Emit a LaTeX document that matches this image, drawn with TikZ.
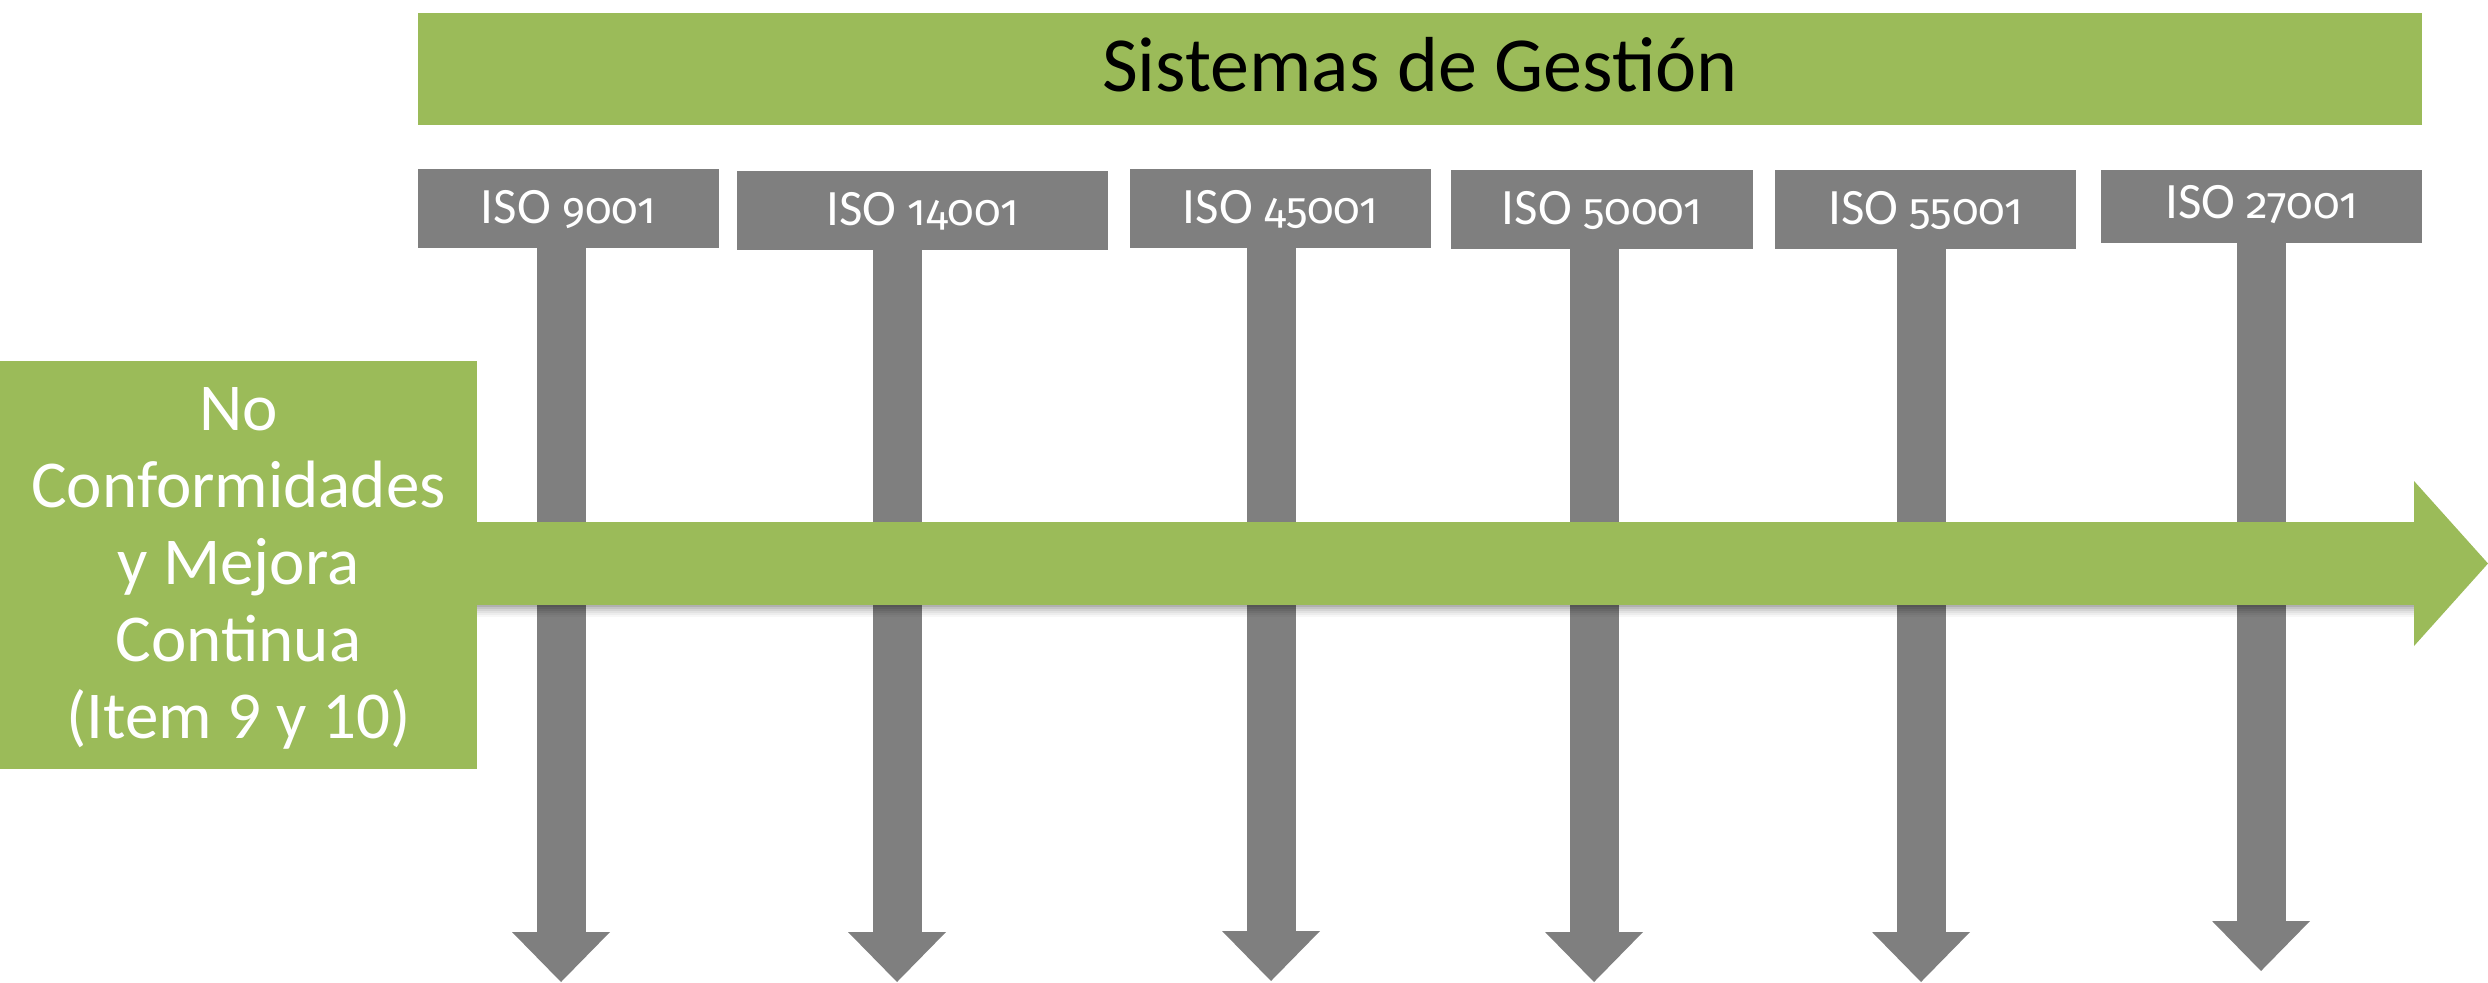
\documentclass[tikz,border=0pt]{standalone}
\usepackage{fontspec}
\setmainfont{Carlito}
\newfontfamily\digfont[Numbers=OldStyle,Scale=0.86]{Fira Sans}
\newcommand{\isonum}[1]{ISO {\digfont #1}}
\usetikzlibrary{arrows.meta}
\definecolor{olive}{HTML}{9BBB59}
\definecolor{slate}{HTML}{7F7F7F}
\tikzset{
  greenbox/.style={fill=olive, inner sep=0pt, outer sep=0pt, anchor=center},
  isobox/.style={fill=slate, inner sep=0pt, outer sep=0pt, anchor=center, text=white,
    minimum height=79pt, text height=33pt, text depth=4pt,
    font=\fontsize{51}{56}\selectfont},
  stem/.style={draw=slate, line width=49pt,
    -{Triangle[width=98pt,length=50pt,line width=0pt]}},
  bigarrow/.style={draw=olive, line width=83pt,
    -{Triangle[width=165pt,length=74pt,line width=0pt]}},
}
\begin{document}
\begin{tikzpicture}[x=1pt,y=-1pt]
\useasboundingbox (0,0) rectangle (2488,982);
% title bar
\node[greenbox, minimum width=2004pt, minimum height=112pt, text height=52pt, text depth=6pt,
  font=\fontsize{78}{84}\selectfont] (title) at (1420,69) {Sistemas de Gestión};
% ISO boxes
\node[isobox, minimum width=301pt] (iso1) at (568.5,208.5) {\isonum{9001}};
\node[isobox, minimum width=371pt] (iso2) at (922.5,210.5) {\isonum{14001}};
\node[isobox, minimum width=301pt] (iso3) at (1280.5,208.5) {\isonum{45001}};
\node[isobox, minimum width=302pt] (iso4) at (1602,209.5) {\isonum{50001}};
\node[isobox, minimum width=301pt] (iso5) at (1925.5,209.5) {\isonum{55001}};
\node[isobox, minimum width=321pt, minimum height=73pt, text depth=10pt] (iso6) at (2261.5,206.5) {\isonum{27001}};
% arrow ends
\coordinate (e1) at (561,982);
\coordinate (e2) at (897,982);
\coordinate (e3) at (1271,981);
\coordinate (e4) at (1594,982);
\coordinate (e5) at (1921,982);
\coordinate (e6) at (2261,971);
\foreach \i in {1,...,6}{
  \draw[stem] (iso\i.south -| e\i) -- (e\i);
}
% left box
\node[greenbox, minimum width=477pt, minimum height=408pt, text=white, align=center,
  text height=353pt, text depth=7pt, font=\fontsize{67}{77}\selectfont] (nc) at (238.5,565)
  {No\\Conformidades\\y Mejora\\Continua\\(Item 9 y 10)};
% big arrow with soft shadow
\coordinate (tip) at (2488,563.5);
\foreach \k/\o in {1/0.10,2/0.08,3/0.06,4/0.05,5/0.04,6/0.03}{
  \fill[black, opacity=\o] (nc.east |- 0,605) rectangle (2414,605+2*\k);
}
\draw[bigarrow] (nc.east |- tip) -- (tip);
\end{tikzpicture}
\end{document}
